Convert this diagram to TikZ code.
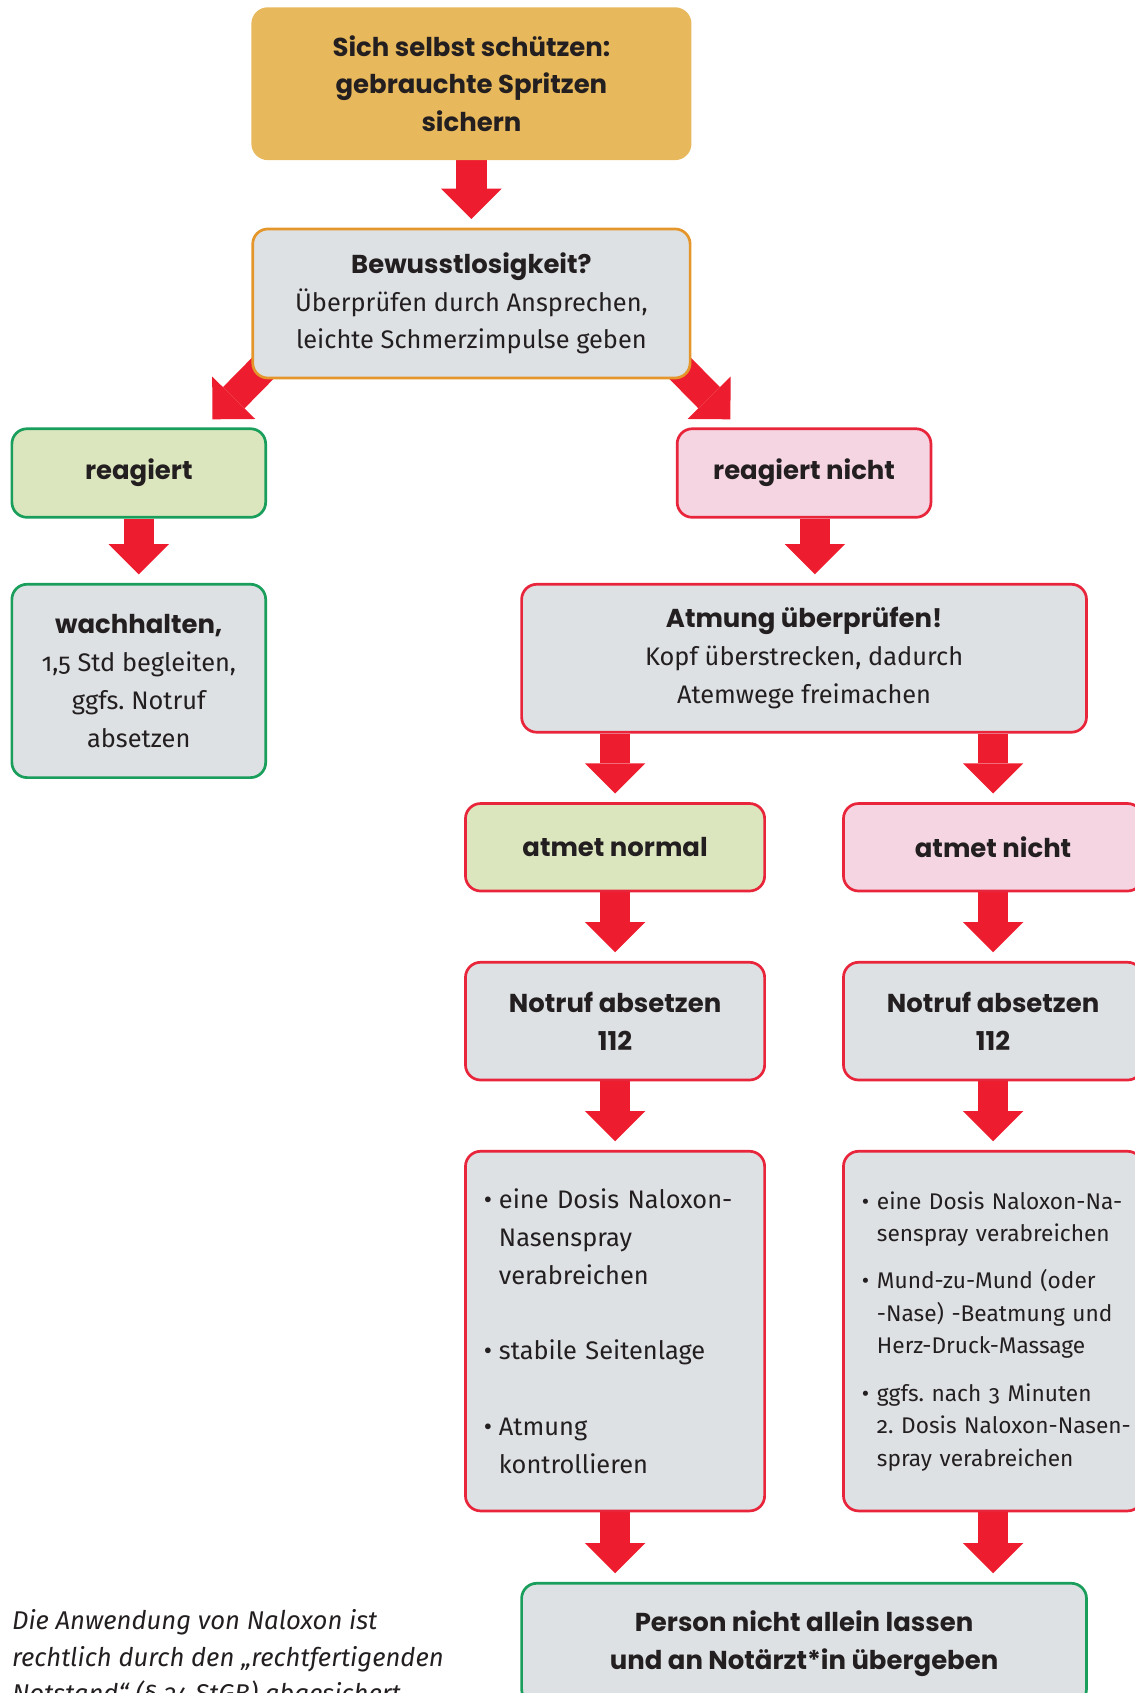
\documentclass[tikz,border=0pt]{standalone}
\usepackage{fontspec}
\setmainfont{Fira Sans}[Numbers=OldStyle]
\newfontfamily\headfont{Poppins}
\usetikzlibrary{arrows.meta,backgrounds}
\definecolor{gold}{RGB}{232,184,92}
\definecolor{boxgrey}{RGB}{222,225,228}
\definecolor{lightgreen}{RGB}{220,230,190}
\definecolor{lightpink}{RGB}{245,213,226}
\definecolor{arrowred}{RGB}{237,28,46}
\definecolor{framered}{RGB}{232,37,58}
\definecolor{framegreen}{RGB}{26,158,92}
\definecolor{frameorange}{RGB}{228,150,42}
\definecolor{ink}{RGB}{35,31,32}
\newcommand{\hd}[1]{{\headfont\bfseries\fontsize{24}{35}\selectfont #1}}
\newcommand{\itm}{\makebox[14pt][l]{\textbullet}}
\newcommand{\ind}{\hspace*{14pt}}
\frenchspacing

\begin{document}
\begin{tikzpicture}[x=1pt,y=-1pt,
   box/.style={draw,rounded corners=14pt,line width=2.5pt,fill=boxgrey,
      align=center,inner sep=0pt,text=ink,font=\fontsize{23.5}{35}\selectfont},
   redbox/.style={box,draw=framered},
   greenbox/.style={box,draw=framegreen},
   fatarrow/.style={draw=arrowred,line width=28pt,
      -{Triangle[length=28pt,width=56pt,line width=0pt]},shorten >=8pt}]
\useasboundingbox (0,0) rectangle (1050,1567.6);

% boxes
\node[box,draw=gold,fill=gold,minimum width=405pt,minimum height=139pt] (top) at (436.5,77.5)
   {\hd{Sich selbst schützen:}\\ \hd{gebrauchte Spritzen}\\ \hd{sichern}};
\node[box,draw=frameorange,minimum width=405pt,minimum height=138pt] (bewusst) at (436.5,281)
   {\hd{Bewusstlosigkeit?}\\ Überprüfen durch Ansprechen,\\ leichte Schmerzimpulse geben};
\node[greenbox,fill=lightgreen,minimum width=235pt,minimum height=82pt] (reagiert) at (128.5,438)
   {\hd{reagiert}};
\node[redbox,fill=lightpink,minimum width=235pt,minimum height=82pt] (nicht) at (744.5,438)
   {\hd{reagiert nicht}};
\node[greenbox,minimum width=235pt,minimum height=179pt] (wach) at (128.5,630.5)
   {\hd{wachhalten,}\\ 1,5 Std begleiten,\\ ggfs. Notruf\\ absetzen};
\node[redbox,minimum width=523pt,minimum height=137pt] (atmung) at (744.5,609.5)
   {\hd{Atmung überprüfen!}\\ Kopf überstrecken, dadurch\\ Atemwege freimachen};
\node[redbox,fill=lightgreen,minimum width=277pt,minimum height=81pt] (normal) at (569.5,784.5)
   {\hd{atmet normal}};
\node[redbox,fill=lightpink,minimum width=277pt,minimum height=81pt] (atmetnicht) at (919.5,784.5)
   {\hd{atmet nicht}};
\node[redbox,minimum width=277pt,minimum height=109pt] (notrufL) at (569.5,945.5)
   {\hd{Notruf absetzen}\\ \hd{112}};
\node[redbox,minimum width=277pt,minimum height=109pt] (notrufR) at (919.5,945.5)
   {\hd{Notruf absetzen}\\ \hd{112}};
\node[redbox,minimum width=277pt,minimum height=333pt,text width=243pt,align=left] (listL) at (569.5,1232.5)
   {\itm eine Dosis Naloxon-\\ \ind Nasenspray\\ \ind verabreichen\\[35pt]
    \itm stabile Seitenlage\\[35pt]
    \itm Atmung\\ \ind kontrollieren};
\node[redbox,minimum width=277pt,minimum height=333pt,text width=243pt,align=left,
   font=\fontsize{21}{30}\selectfont] (listR) at (919.5,1232.5)
   {\itm\mbox{eine Dosis Naloxon-Na-}\\ \ind senspray verabreichen\\[14pt]
    \itm Mund-zu-Mund (oder\\ \ind -Nase) -Beatmung und\\ \ind Herz-Druck-Massage\\[14pt]
    \itm ggfs. nach 3 Minuten\\ \ind\mbox{2. Dosis Naloxon-Nasen-}\\ \ind spray verabreichen};
\node[greenbox,minimum width=523pt,minimum height=112pt] (final) at (744.5,1522)
   {\hd{Person nicht allein lassen}\\ \hd{und an Notärzt*in übergeben}};
\node[anchor=north west,align=left,inner sep=0pt,text=ink,
   font=\itshape\fontsize{23.8}{34}\selectfont] (note) at (11,1490)
   {Die Anwendung von Naloxon ist\\ rechtlich durch den „rechtfertigenden\\ Notstand“ (§ 34 StGB) abgesichert};

% arrows
\coordinate (tipL) at ([shift={(-36,37)}]bewusst.south west);
\coordinate (tipR) at ([shift={(36,37)}]bewusst.south east);
\begin{scope}[on background layer]
\draw[fatarrow] (top.south) -- (bewusst.north);
\draw[fatarrow,shorten >=0pt] ([shift={(30,-30)}]bewusst.south west) -- (tipL);
\draw[fatarrow,shorten >=0pt] ([shift={(-30,-30)}]bewusst.south east) -- (tipR);
\draw[fatarrow] (reagiert.south) -- (wach.north);
\draw[fatarrow] ([xshift=10pt]nicht.south) -- ([xshift=10pt]atmung.north);
\draw[fatarrow] (atmung.south -| normal.north) -- (normal.north);
\draw[fatarrow] (atmung.south -| atmetnicht.north) -- (atmetnicht.north);
\foreach \a/\b in {normal/notrufL,atmetnicht/notrufR,notrufL/listL,notrufR/listR}
   \draw[fatarrow] (\a.south) -- (\b.north);
\draw[fatarrow] (listL.south) -- (listL.south |- final.north);
\draw[fatarrow] (listR.south) -- (listR.south |- final.north);
\end{scope}
\end{tikzpicture}
\end{document}
